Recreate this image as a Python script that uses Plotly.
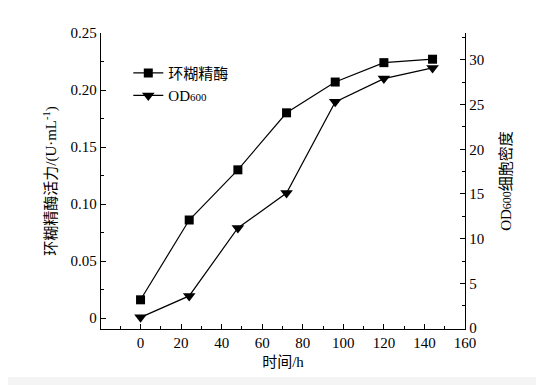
import plotly.graph_objects as go

time_h = [0, 24, 48, 72, 96, 120, 144]
enzyme_activity = [0.016, 0.086, 0.130, 0.180, 0.207, 0.224, 0.227]
od600 = [1.2, 3.6, 11.2, 15.1, 25.3, 27.9, 29.1]

x_ticks = [0, 20, 40, 60, 80, 100, 120, 140, 160]
left_ticks = [0, 0.05, 0.10, 0.15, 0.20, 0.25]
left_labels = ["0", "0.05", "0.10", "0.15", "0.20", "0.25"]
right_ticks = [0, 5, 10, 15, 20, 25, 30]

SERIF = "Liberation Serif, Times New Roman, Noto Sans CJK SC"

fig = go.Figure()
fig.add_trace(go.Scatter(
    x=time_h, y=enzyme_activity, name="环糊精酶", mode="lines+markers",
    line=dict(color="black", width=1.2),
    marker=dict(symbol="square", size=9, color="black"),
    yaxis="y",
))
fig.add_trace(go.Scatter(
    x=time_h, y=od600, name='OD<span style="font-size:11px">600</span>', mode="lines+markers",
    line=dict(color="black", width=1.2),
    marker=dict(symbol="triangle-down", size=11, color="black"),
    yaxis="y2",
))

axis_common = dict(
    showline=True, linecolor="black", linewidth=1.3, mirror=False,
    ticks="inside", ticklen=5, tickwidth=1, tickcolor="black",
    showgrid=False, zeroline=False, automargin=False,
    tickfont=dict(family=SERIF, size=15, color="black"),
)

# page body has an 8px default margin; figure is sized to compensate
fig.update_layout(
    width=536, height=377,
    margin=dict(l=93, r=79, t=25, b=56, autoexpand=False),
    paper_bgcolor="white", plot_bgcolor="white",
    showlegend=True,
    legend=dict(x=0.075, y=0.92, xanchor="left", yanchor="top",
                bgcolor="rgba(0,0,0,0)", font=dict(family=SERIF, size=15, color="black"),
                tracegroupgap=4, itemwidth=30),
    xaxis=dict(
        range=[-19.5, 160], tickvals=x_ticks,
        minor=dict(dtick=10, tick0=0, ticks="inside", ticklen=3, tickcolor="black"),
        title=dict(text="时间/h", font=dict(family=SERIF, size=15, color="black"), standoff=6),
        **axis_common,
    ),
    yaxis=dict(
        range=[-0.0096, 0.25], tickvals=left_ticks, ticktext=left_labels,
        minor=dict(dtick=0.025, tick0=0, ticks="inside", ticklen=3, tickcolor="black"),
        title=dict(text="环糊精酶活力/(U·mL<sup>-1</sup>)", font=dict(family=SERIF, size=15, color="black"), standoff=10),
        **axis_common,
    ),
    yaxis2=dict(
        range=[-0.1, 33], tickvals=right_ticks, overlaying="y", side="right", anchor="x",
        minor=dict(dtick=2.5, tick0=0, ticks="inside", ticklen=3, tickcolor="black"),
        title=dict(text='OD<span style="font-size:12px">600</span>细胞密度', font=dict(family=SERIF, size=15, color="black"), standoff=17),
        **axis_common,
    ),
    shapes=[
        dict(type="rect", xref="paper", yref="paper", x0=-0.3, x1=1.3, y0=-56 / 296 - 0.01, y1=-48 / 296,
             fillcolor="#f4f4f4", line=dict(width=0), layer="below"),
    ],
)

fig.write_html("out.html")
